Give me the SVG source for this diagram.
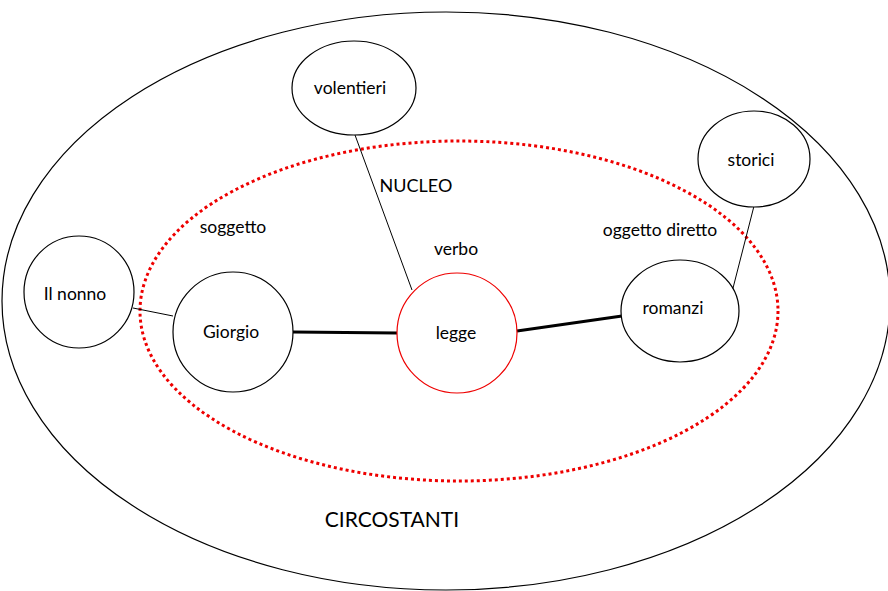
<svg xmlns="http://www.w3.org/2000/svg" width="888" height="591" viewBox="0 0 888 591">
<style>
.n{fill:#fff;stroke:#000;stroke-width:1.2}
.v{fill:#fff;stroke:#e00;stroke-width:1.2}
.t{font-family:Lato,"Liberation Sans",sans-serif;font-size:17.5px;fill:#000;text-anchor:middle}
.thin{stroke:#000;stroke-width:1;fill:none}
.thick{stroke:#000;stroke-width:3;fill:none}
</style>
<rect width="888" height="591" fill="#fff"/>
<g id="circostanti">
<ellipse cx="446" cy="301" rx="444" ry="289" fill="none" stroke="#000" stroke-width="1.2"/>
<text class="t" x="392" y="527" style="font-size:21px">CIRCOSTANTI</text>
</g>
<g id="nucleo">
<ellipse cx="459" cy="311" rx="319" ry="170" fill="none" stroke="#e00" stroke-width="3" stroke-dasharray="3 3"/>
<text class="t" x="416" y="192" style="font-size:18px">NUCLEO</text>
</g>
<g id="connectors">
<line class="thin" x1="133" y1="308" x2="173" y2="316"/>
<line class="thick" x1="293" y1="332" x2="397" y2="333"/>
<line class="thick" x1="517" y1="331" x2="622" y2="316"/>
<line class="thin" x1="355" y1="135" x2="412" y2="290"/>
<line class="thin" x1="754" y1="206" x2="732" y2="292"/>
</g>
<g id="volentieri">
<ellipse class="n" cx="354" cy="88" rx="62" ry="47"/>
<text class="t" x="350" y="94">volentieri</text>
</g>
<g id="storici">
<ellipse class="n" cx="754" cy="159" rx="56" ry="48"/>
<text class="t" x="751" y="166">storici</text>
</g>
<g id="ilnonno">
<ellipse class="n" cx="79" cy="292" rx="55" ry="56"/>
<text class="t" x="75" y="300">Il nonno</text>
</g>
<g id="giorgio">
<circle class="n" cx="233" cy="332" r="60"/>
<text class="t" x="231" y="338">Giorgio</text>
</g>
<g id="legge">
<circle class="v" cx="457" cy="333" r="60"/>
<text class="t" x="456" y="339">legge</text>
</g>
<g id="romanzi">
<ellipse class="n" cx="680" cy="311" rx="59" ry="51"/>
<text class="t" x="673" y="314">romanzi</text>
</g>
<g id="labels">
<text class="t" x="233" y="233">soggetto</text>
<text class="t" x="456" y="255">verbo</text>
<text class="t" x="660" y="236">oggetto diretto</text>
</g>
</svg>
